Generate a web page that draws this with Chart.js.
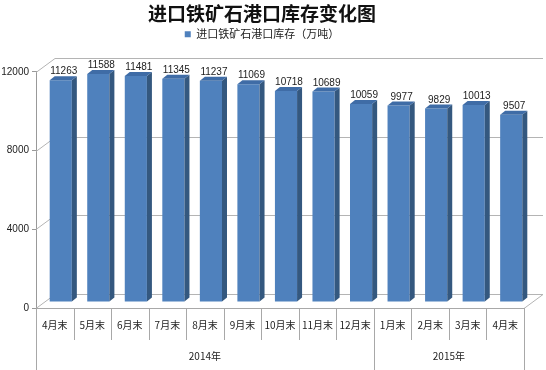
<!DOCTYPE html>
<html lang="zh">
<head>
  <meta charset="UTF-8">
  <title>进口铁矿石港口库存变化图</title>
  <script src="https://cdn.jsdelivr.net/npm/chart.js"></script>
  <style>
    html, body { margin: 0; padding: 0; background: #fff; }
    #wrap { width: 546px; height: 370px; position: relative; }
  </style>
</head>
<body>
  <div id="wrap"><canvas id="stockChart"></canvas></div>

  <script>
    // chart data
    var months = ['4月末', '5月末', '6月末', '7月末', '8月末', '9月末', '10月末', '11月末', '12月末', '1月末', '2月末', '3月末', '4月末'];
    var stock = [11263, 11588, 11481, 11345, 11237, 11069, 10718, 10689, 10059, 9977, 9829, 10013, 9507];
    var yearLabels = ['2014年', '2015年'];
    var yearSpans = [9, 4];
    var yTicks = [0, 4000, 8000, 12000];

    // depth of the fake 3d box
    var DX = 19, DY = 14;     // back wall offset
    var BX = 6, BY = 6;       // bar plane offset
    var SX = 5, SY = 4;       // bar depth
    var FONT = '"Liberation Sans", Arial, sans-serif';
    var CJK = '"Noto Sans CJK SC", sans-serif';

    // extra room under the legend
    var legendGap = {
      id: 'legendGap',
      beforeInit: function(chart) {
        var fit = chart.legend.fit;
        chart.legend.fit = function() {
          fit.bind(chart.legend)();
          this.height += 22;
        };
      }
    };

    var box3d = {
      id: 'box3d',
      beforeDatasetsDraw: function(chart) {
        var ctx = chart.ctx, a = chart.chartArea, y = chart.scales.y;
        ctx.save();
        ctx.strokeStyle = '#b4b4b4';
        ctx.lineWidth = 1;
        yTicks.forEach(function(v) {
          var py = Math.round(y.getPixelForValue(v)) + 0.5;
          ctx.beginPath();
          ctx.moveTo(a.left, py);
          ctx.lineTo(a.left + DX, py - DY);
          ctx.lineTo(a.right + DX, py - DY);
          if (v === 0) ctx.lineTo(a.right, py);
          ctx.stroke();
        });
        ctx.restore();
        ctx.save();
        ctx.translate(BX, -BY);
      },
      afterDatasetsDraw: function(chart) {
        var ctx = chart.ctx;
        var meta = chart.getDatasetMeta(0);
        meta.data.forEach(function(bar, i) {
          var p = bar.getProps(['x', 'y', 'base', 'width'], true);
          var l = p.x - p.width / 2, r = p.x + p.width / 2;
          ctx.fillStyle = '#34587f';
          ctx.beginPath();
          ctx.moveTo(r, p.y);
          ctx.lineTo(r + SX, p.y - SY);
          ctx.lineTo(r + SX, p.base - SY);
          ctx.lineTo(r, p.base);
          ctx.closePath();
          ctx.fill();
          ctx.fillStyle = '#3f6ca6';
          ctx.beginPath();
          ctx.moveTo(l, p.y);
          ctx.lineTo(l + SX, p.y - SY);
          ctx.lineTo(r + SX, p.y - SY);
          ctx.lineTo(r, p.y);
          ctx.closePath();
          ctx.fill();
          ctx.fillStyle = '#222';
          ctx.font = '10px ' + FONT;
          ctx.textAlign = 'center';
          ctx.textBaseline = 'alphabetic';
          ctx.fillText(stock[i], p.x + 3, p.y - SY - 2);
        });
        ctx.restore();
      },
      afterDraw: function(chart) {
        var ctx = chart.ctx, a = chart.chartArea, x = chart.scales.x;
        var cw = (a.right - a.left) / months.length;
        ctx.save();
        ctx.strokeStyle = '#a8a8a8';
        ctx.lineWidth = 1;
        var edges = [0];
        var acc = 0;
        yearSpans.forEach(function(s) { acc += s; edges.push(acc); });
        for (var i = 0; i <= months.length; i++) {
          var px = Math.round(x.getPixelForValue(0) - cw / 2 + i * cw) + 0.5;
          var long = edges.indexOf(i) >= 0;
          ctx.beginPath();
          ctx.moveTo(px, a.bottom);
          ctx.lineTo(px, long ? 370 : a.bottom + 32);
          ctx.stroke();
        }
        ctx.fillStyle = '#222';
        ctx.font = '10px ' + CJK;
        ctx.textAlign = 'center';
        ctx.textBaseline = 'middle';
        yearLabels.forEach(function(lab, k) {
          var x0 = x.getPixelForValue(0) - cw / 2 + edges[k] * cw;
          var x1 = x.getPixelForValue(0) - cw / 2 + edges[k + 1] * cw;
          ctx.fillText(lab, (x0 + x1) / 2, a.bottom + 48);
        });
        ctx.restore();
      }
    };

    var ctx = document.getElementById('stockChart').getContext('2d');
    var chart = new Chart(ctx, {
      type: 'bar',
      data: {
        labels: months,
        datasets: [{
          label: '进口铁矿石港口库存（万吨）',
          data: stock,
          backgroundColor: '#4f81bd',
          borderWidth: 0,
          categoryPercentage: 1,
          barPercentage: 0.59
        }]
      },
      options: {
        responsive: true,
        maintainAspectRatio: false,
        animation: false,
        events: [],
        layout: { padding: { left: 0, right: 22, top: 0, bottom: 0 } },
        plugins: {
          title: {
            display: true,
            text: '进口铁矿石港口库存变化图',
            color: '#111',
            font: { family: CJK, size: 19, weight: 'bold' },
            padding: { top: 2, bottom: 0 }
          },
          legend: {
            display: true,
            labels: {
              boxWidth: 6,
              boxHeight: 6,
              color: '#222',
              font: { family: CJK, size: 11 },
              padding: 4
            }
          },
          tooltip: { enabled: false }
        },
        scales: {
          x: {
            grid: { display: false, drawTicks: false },
            border: { display: true, color: '#a8a8a8' },
            ticks: { color: '#222', font: { family: CJK, size: 10 }, padding: 11, maxRotation: 0, autoSkip: false },
            afterFit: function(s) { s.height = 62; }
          },
          y: {
            min: 0,
            max: 12000,
            afterBuildTicks: function(s) { s.ticks = yTicks.map(function(v) { return { value: v }; }); },
            grid: { drawOnChartArea: false, drawTicks: true, tickLength: 4, color: '#999' },
            border: { display: true, color: '#999' },
            ticks: {
              color: '#222',
              font: { family: FONT, size: 10 },
              padding: 3,
              callback: function(v) { return String(v); }
            },
            afterFit: function(s) { s.width = 36; }
          }
        }
      },
      plugins: [legendGap, box3d]
    });
  </script>
</body>
</html>
